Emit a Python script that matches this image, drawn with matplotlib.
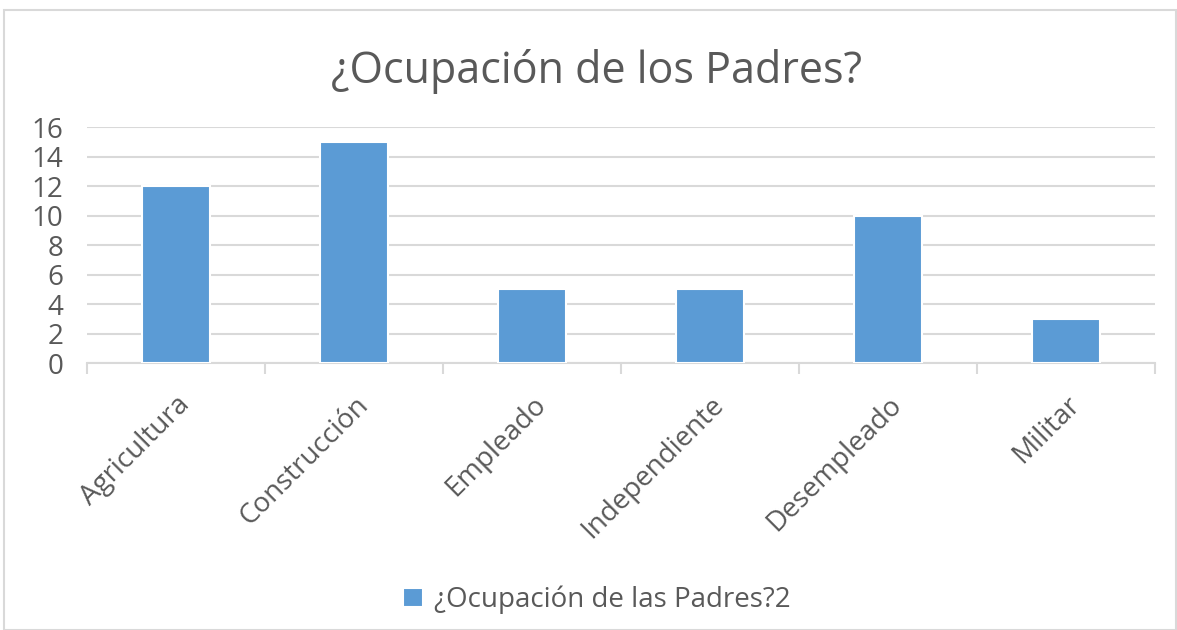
import matplotlib
matplotlib.use("Agg")
import matplotlib.pyplot as plt
from matplotlib.patches import Rectangle

categories = ["Agricultura", "Construcción", "Empleado", "Independiente", "Desempleado", "Militar"]
values = [12, 15, 5, 5, 10, 3]
yticks = [0, 2, 4, 6, 8, 10, 12, 14, 16]
title = "¿Ocupación de los Padres?"
series_name = "¿Ocupación de las Padres?2"

plt.rcParams['font.family'] = ['Open Sans', 'DejaVu Sans']
text_color = "#595959"
bar_color = "#5B9BD5"
grid_color = "#D9D9D9"

fig = plt.figure(figsize=(11.77, 6.30), dpi=100)
fig.patches.append(Rectangle((0.003, 0.0), 0.996, 0.984, transform=fig.transFigure,
                             fill=False, edgecolor="#D9D9D9", linewidth=1.5))
ax = fig.add_axes([0.0739, 0.4238, 0.9074, 0.3746])
x = list(range(len(categories)))
ax.bar(x, values, width=0.38, color=bar_color, edgecolor="white", linewidth=1.5,
       label=series_name, zorder=3)
ax.set_xlim(-0.5, len(categories) - 0.5)
ax.set_ylim(0, 16)
ax.set_yticks(yticks)
ax.set_yticklabels([str(v) for v in yticks], fontsize=20, color=text_color)
ax.yaxis.grid(True, color=grid_color, linewidth=1.5, zorder=0)
ax.tick_params(axis='y', length=0, pad=17)
ax.set_xticks(x)
ax.set_xticklabels(categories, rotation=45, ha='right', rotation_mode='anchor',
                   fontsize=20, color=text_color)
ax.set_xticks([i - 0.5 for i in range(len(categories) + 1)], minor=True)
ax.tick_params(axis='x', which='major', length=0, pad=20)
ax.tick_params(axis='x', which='minor', length=8, color=grid_color, width=1.5)
for s in ['top', 'right', 'left']:
    ax.spines[s].set_visible(False)
ax.spines['bottom'].set_color(grid_color)
ax.spines['bottom'].set_linewidth(1.5)

fig.text(0.507, 0.886, title, ha='center', va='center', fontsize=31, color=text_color)
leg = fig.legend(loc='center', bbox_to_anchor=(0.507, 0.048), frameon=False,
                 fontsize=20, handlelength=0.7, handleheight=0.7, handletextpad=0.4)
for t in leg.get_texts():
    t.set_color(text_color)

fig.savefig("out.png", dpi=100)
